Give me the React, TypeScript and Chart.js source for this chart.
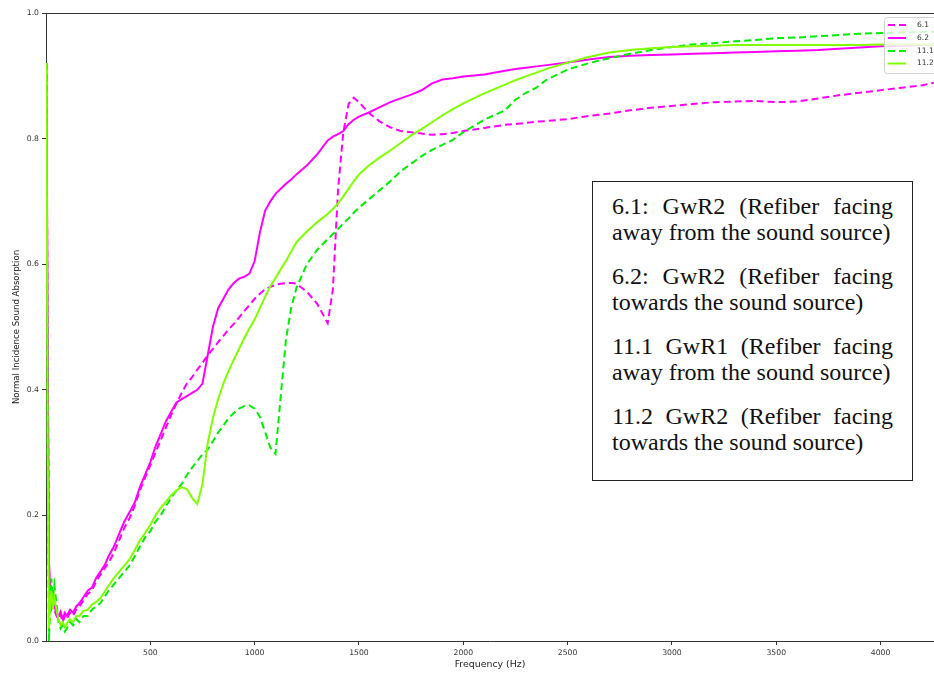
import React, { useEffect, useRef } from "react";
import { Chart, registerables } from "chart.js";

Chart.register(...registerables);

// Frequency grid (Hz)
const frequency = [
  2, 8, 14, 20, 26, 32, 40, 50, 60, 70, 80, 90, 100, 115, 130, 145, 160, 180, 200, 220, 240, 260, 280, 300,
  325, 350, 375, 400, 425, 450, 475, 500, 525, 550, 575, 600, 625, 650, 675, 700, 725, 750, 775, 800, 825,
  850, 875, 900, 925, 950, 975, 1000, 1025, 1050, 1075, 1100, 1125, 1150, 1175, 1200, 1250, 1300, 1350,
  1375, 1400, 1425, 1450, 1475, 1500, 1550, 1600, 1650, 1700, 1750, 1800, 1850, 1900, 1950, 2000, 2100,
  2200, 2250, 2300, 2350, 2400, 2500, 2600, 2700, 2800, 2900, 3000, 3100, 3200, 3300, 3400, 3500, 3600,
  3700, 3800, 3900, 4000, 4100, 4200, 4256,
];

// 6.1 (dashed magenta)
const s61 = [
  0.92, 0.45, 0.12, 0.07, 0.055, 0.065, 0.05, 0.04, 0.035, 0.042, 0.03, 0.04, 0.035, 0.045, 0.04, 0.05, 0.055,
  0.065, 0.075, 0.08, 0.095, 0.105, 0.115, 0.125, 0.14, 0.16, 0.18, 0.195, 0.215, 0.24, 0.26, 0.28, 0.3, 0.32,
  0.34, 0.36, 0.378, 0.395, 0.41, 0.42, 0.432, 0.443, 0.455, 0.465, 0.476, 0.486, 0.496, 0.505, 0.515, 0.525,
  0.535, 0.545, 0.553, 0.56, 0.564, 0.567, 0.569, 0.57, 0.57, 0.569, 0.556, 0.537, 0.506, 0.56, 0.72, 0.81,
  0.855, 0.865, 0.858, 0.84, 0.827, 0.818, 0.812, 0.81, 0.808, 0.806, 0.807, 0.809, 0.812, 0.817, 0.822,
  0.823, 0.825, 0.827, 0.828, 0.831, 0.836, 0.84, 0.845, 0.849, 0.852, 0.855, 0.858, 0.859, 0.86, 0.858,
  0.859, 0.864, 0.869, 0.873, 0.877, 0.881, 0.885, 0.889,
];

// 6.2 (solid magenta)
const s62 = [
  0.92, 0.5, 0.13, 0.08, 0.06, 0.07, 0.055, 0.045, 0.04, 0.047, 0.035, 0.045, 0.04, 0.05, 0.045, 0.055, 0.06,
  0.07, 0.08, 0.085, 0.1, 0.11, 0.12, 0.135, 0.15, 0.17, 0.19, 0.205, 0.22, 0.245, 0.265, 0.285, 0.31, 0.33,
  0.35, 0.365, 0.38, 0.385, 0.39, 0.395, 0.4, 0.41, 0.455, 0.5, 0.53, 0.545, 0.56, 0.57, 0.577, 0.58, 0.585,
  0.605, 0.65, 0.685, 0.7, 0.712, 0.72, 0.728, 0.735, 0.743, 0.757, 0.775, 0.797, 0.803, 0.807, 0.812, 0.823,
  0.83, 0.835, 0.842, 0.85, 0.858, 0.864, 0.87, 0.877, 0.888, 0.894, 0.896, 0.899, 0.902, 0.908, 0.911,
  0.913, 0.915, 0.917, 0.921, 0.926, 0.93, 0.932, 0.933, 0.934, 0.935, 0.936, 0.937, 0.938, 0.939, 0.94,
  0.941, 0.943, 0.945, 0.947, 0.948, 0.949, 0.95,
];

// 11.1 (dashed green)
const s111 = [
  0.92, 0.3, 0.0, 0.05, 0.1, 0.07, 0.09, 0.06, 0.03, 0.02, 0.025, 0.015, 0.02, 0.03, 0.025, 0.035, 0.03, 0.04,
  0.04, 0.05, 0.055, 0.06, 0.07, 0.08, 0.09, 0.1, 0.11, 0.12, 0.135, 0.15, 0.165, 0.175, 0.19, 0.2, 0.215,
  0.228, 0.24, 0.25, 0.264, 0.276, 0.287, 0.297, 0.305, 0.318, 0.332, 0.343, 0.355, 0.363, 0.37, 0.374, 0.375,
  0.37, 0.357, 0.333, 0.308, 0.298, 0.39, 0.48, 0.53, 0.562, 0.6, 0.623, 0.64, 0.648, 0.656, 0.665, 0.673,
  0.682, 0.69, 0.704, 0.718, 0.732, 0.748, 0.76, 0.772, 0.782, 0.79, 0.798, 0.81, 0.83, 0.845, 0.862, 0.873,
  0.881, 0.894, 0.91, 0.92, 0.928, 0.935, 0.941, 0.946, 0.95, 0.952, 0.955, 0.957, 0.96, 0.961, 0.963, 0.965,
  0.967, 0.968, 0.969, 0.97, 0.97,
];

// 11.2 (solid chartreuse)
const s112 = [
  0.92, 0.3, 0.02, 0.06, 0.08, 0.05, 0.07, 0.05, 0.035, 0.025, 0.03, 0.022, 0.028, 0.035, 0.03, 0.04, 0.04,
  0.048, 0.05, 0.058, 0.062, 0.068, 0.078, 0.088, 0.1, 0.11, 0.12, 0.13, 0.145, 0.16, 0.172, 0.185, 0.2, 0.212,
  0.222, 0.232, 0.24, 0.245, 0.242, 0.228, 0.218, 0.25, 0.315, 0.355, 0.385, 0.41, 0.43, 0.448, 0.465, 0.482,
  0.498, 0.512, 0.53, 0.548, 0.565, 0.578, 0.592, 0.605, 0.62, 0.635, 0.652, 0.667, 0.68, 0.688, 0.697, 0.708,
  0.72, 0.732, 0.743, 0.758, 0.77, 0.781, 0.793, 0.805, 0.815, 0.826, 0.837, 0.847, 0.856, 0.872, 0.886,
  0.893, 0.899, 0.905, 0.911, 0.921, 0.93, 0.937, 0.941, 0.944, 0.946, 0.947, 0.948, 0.949, 0.949, 0.949,
  0.949, 0.949, 0.949, 0.949, 0.95, 0.95, 0.95, 0.95,
];

const seriesLabels = ["6.1", "6.2", "11.1", "11.2"];
const xTickValues = [500, 1000, 1500, 2000, 2500, 3000, 3500, 4000];
const yTickValues = [0, 0.2, 0.4, 0.6, 0.8, 1.0];

const noteLines = [
  ["6.1: GwR2 (Refiber facing", "away from the sound source)"],
  ["6.2: GwR2 (Refiber facing", "towards the sound source)"],
  ["11.1 GwR1 (Refiber facing", "away from the sound source)"],
  ["11.2 GwR2 (Refiber facing", "towards the sound source)"],
];

const W = 934;
const H = 673;

const topSpinePlugin = {
  id: "topSpine",
  afterDraw(chart: any) {
    const { ctx, chartArea } = chart;
    ctx.save();
    ctx.strokeStyle = "#333";
    ctx.lineWidth = 1;
    ctx.beginPath();
    ctx.moveTo(chartArea.left, chartArea.top + 0.5);
    ctx.lineTo(chartArea.right, chartArea.top + 0.5);
    ctx.stroke();
    ctx.restore();
  },
};

const legendPlugin = {
  id: "innerLegend",
  afterDraw(chart: any) {
    const { ctx } = chart;
    const x0 = 884;
    const y0 = 17;
    const w = 60;
    const h = 56;
    ctx.save();
    ctx.fillStyle = "rgba(255,255,255,0.8)";
    ctx.strokeStyle = "#d0d0d0";
    ctx.lineWidth = 1;
    ctx.beginPath();
    (ctx as any).roundRect(x0 + 0.5, y0 + 0.5, w, h, 3);
    ctx.fill();
    ctx.stroke();
    const ys = [25, 38, 51, 63.5];
    chart.data.datasets.forEach((ds: any, i: number) => {
      const y = ys[i];
      ctx.strokeStyle = ds.borderColor;
      ctx.lineWidth = 2;
      ctx.setLineDash(ds.borderDash || []);
      ctx.beginPath();
      ctx.moveTo(888, y);
      ctx.lineTo(906, y);
      ctx.stroke();
      ctx.setLineDash([]);
      ctx.fillStyle = "#333";
      ctx.font = "7.5px 'DejaVu Sans'";
      ctx.textBaseline = "middle";
      ctx.textAlign = "left";
      ctx.fillText(ds.label, 917, y);
    });
    ctx.restore();
  },
};

export default function App() {
  const canvasRef = useRef<HTMLCanvasElement | null>(null);

  useEffect(() => {
    const canvas = canvasRef.current;
    if (!canvas) return;
    const mk = (vals: number[]) => frequency.map((f, i) => ({ x: f, y: vals[i] }));
    const chart = new Chart(canvas, {
      type: "line",
      data: {
        datasets: [
          { label: seriesLabels[0], data: mk(s61), borderColor: "#ff00ff", borderDash: [7, 4], order: 4 },
          { label: seriesLabels[1], data: mk(s62), borderColor: "#ff00ff", order: 3 },
          { label: seriesLabels[2], data: mk(s111), borderColor: "#00ee00", borderDash: [7, 4], order: 2 },
          { label: seriesLabels[3], data: mk(s112), borderColor: "#80ff00", order: 1 },
        ] as any,
      },
      options: {
        animation: false,
        responsive: false,
        devicePixelRatio: 1,
        layout: { padding: { top: 13, left: 0, right: 0, bottom: 0 } },
        elements: {
          point: { radius: 0 },
          line: { borderWidth: 2, tension: 0 },
        },
        plugins: {
          legend: { display: false },
          tooltip: { enabled: false },
        },
        scales: {
          x: {
            type: "linear",
            min: 0,
            max: 4256,
            afterFit: (s: any) => {
              s.height = 32;
            },
            afterBuildTicks: (s: any) => {
              s.ticks = xTickValues.map((v) => ({ value: v }));
            },
            ticks: {
              color: "#333",
              font: { family: "'DejaVu Sans'", size: 7.7 },
              padding: 3,
              maxRotation: 0,
              callback: (v: any) => String(v),
            },
            grid: { drawOnChartArea: false, drawTicks: true, tickLength: 4, color: "#333" },
            border: { display: true, color: "#333", width: 1 },
            title: {
              display: true,
              text: "Frequency (Hz)",
              color: "#222",
              font: { family: "'DejaVu Sans'", size: 9.4 },
              padding: { top: 0, bottom: 3 },
            },
          },
          y: {
            type: "linear",
            min: 0,
            max: 1,
            afterFit: (s: any) => {
              s.width = 46;
            },
            afterBuildTicks: (s: any) => {
              s.ticks = yTickValues.map((v) => ({ value: v }));
            },
            ticks: {
              color: "#333",
              font: { family: "'DejaVu Sans'", size: 7.7 },
              padding: 3,
              callback: (v: any) => Number(v).toFixed(1),
            },
            grid: { drawOnChartArea: false, drawTicks: true, tickLength: 4, color: "#333" },
            border: { display: true, color: "#333", width: 1 },
            title: {
              display: true,
              text: "Normal Incidence Sound Absorption",
              color: "#222",
              font: { family: "'DejaVu Sans'", size: 8.6 },
              padding: { top: 12, bottom: 0 },
            },
          },
        },
      },
      plugins: [topSpinePlugin, legendPlugin],
    });
    return () => chart.destroy();
  }, []);

  return (
    <div style={{ position: "fixed", left: 0, top: 0, width: W, height: H, background: "#fff", overflow: "hidden" }}>
      <canvas ref={canvasRef} width={W} height={H} style={{ width: W, height: H, display: "block" }} />
      <div
        style={{
          position: "absolute",
          left: 592,
          top: 181,
          width: 321,
          height: 300,
          boxSizing: "border-box",
          border: "1px solid #222",
          background: "#fff",
          padding: "11px 19px 0 19px",
          fontFamily: "'Liberation Serif', 'Times New Roman', serif",
          fontSize: 24,
          lineHeight: "26px",
          color: "#111",
        }}
      >
        {noteLines.map((para, i) => (
          <div key={i} style={{ marginBottom: i < noteLines.length - 1 ? 18 : 0 }}>
            <div style={{ textAlign: "justify", textAlignLast: "justify", whiteSpace: "nowrap" as any }}>{para[0]}</div>
            <div style={{ textAlign: "left", whiteSpace: "nowrap" }}>{para[1]}</div>
          </div>
        ))}
      </div>
    </div>
  );
}
